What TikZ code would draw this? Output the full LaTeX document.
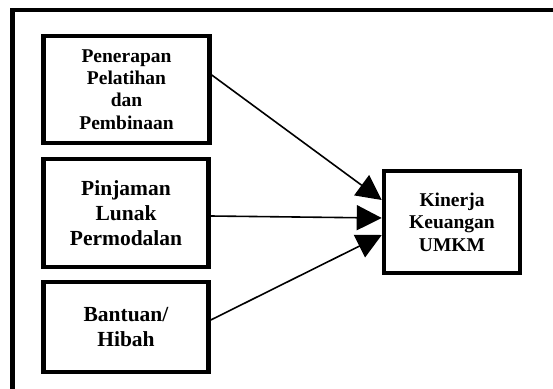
\documentclass[tikz,border=0pt]{standalone}
\usepackage{fontspec}
\setmainfont{Liberation Serif}
\usetikzlibrary{arrows.meta}

\begin{document}
\begin{tikzpicture}
[x=1pt,y=-1pt,every node/.style={draw,line width=4.5pt,inner sep=0pt,align=center}]
\useasboundingbox (0,0) rectangle (553,388);
\draw[line width=4.5pt] (12.5,400) -- (12.5,10) -- (570,10);
\node[minimum width=166pt,minimum height=107pt,font=\bfseries\fontsize{19.5}{20.7}\selectfont] (n1) at (126.5,89.5) {Penerapan\\[1.5pt]Pelatihan\\[1.5pt]dan\\[1.5pt]Pembinaan};
\node[minimum width=165pt,minimum height=108pt,font=\bfseries\fontsize{21.5}{24}\selectfont] (n2) at (126,213) {Pinjaman\\[1pt]Lunak\\[1pt]Permodalan};
\node[minimum width=165pt,minimum height=90pt,font=\bfseries\fontsize{21.5}{24}\selectfont] (n3) at (126,327) {Bantuan/\\[1pt]Hibah};
\node[minimum width=136pt,minimum height=102pt,font=\bfseries\fontsize{19.5}{21}\selectfont] (n4) at (452,222) {Kinerja\\[1.5pt]Keuangan\\[1.5pt]UMKM};
\foreach \from/\fs/\ts in {n1/14.5/22,n2/-3/4,n3/7/-13}
\draw[line width=1.6pt,-{Triangle[length=25pt,width=25pt]}] ([yshift=\fs pt]\from.east) -- ([yshift=\ts pt]n4.west);
\end{tikzpicture}
\end{document}
